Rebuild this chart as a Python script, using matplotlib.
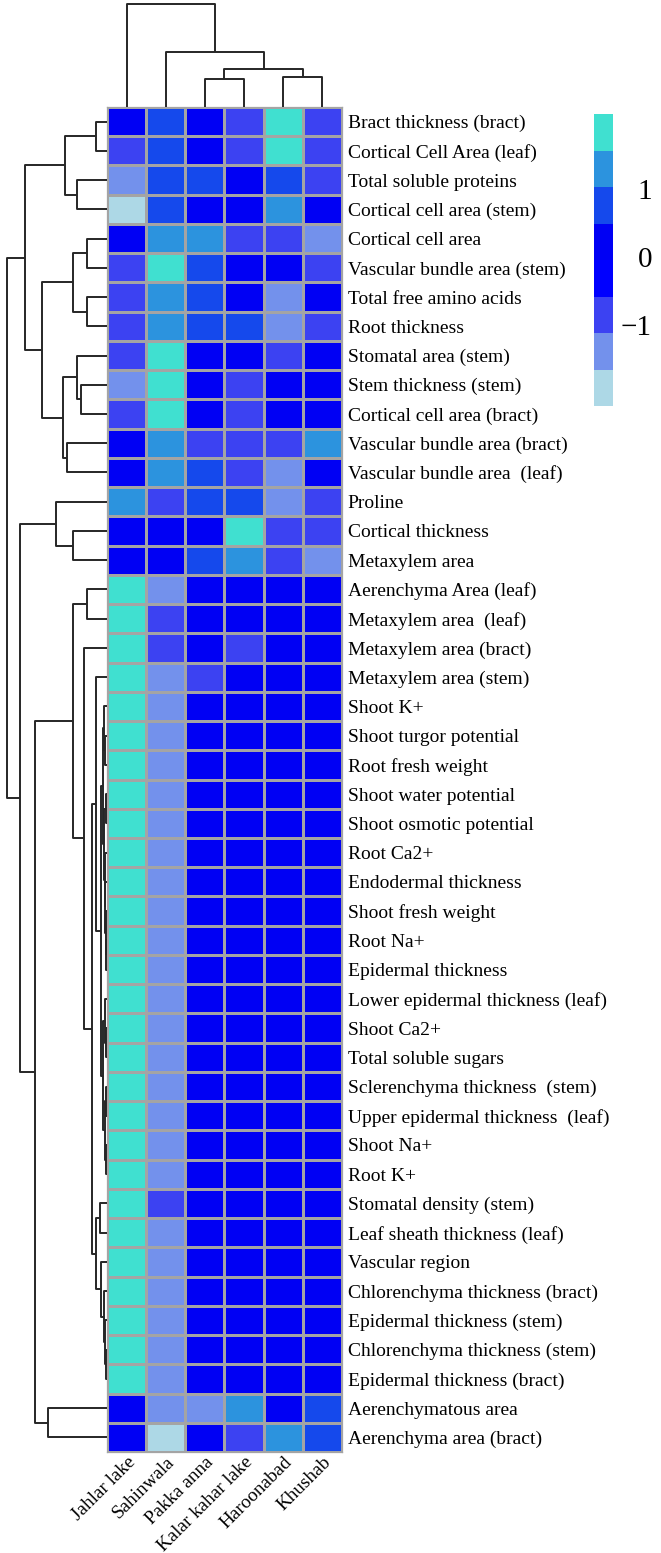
import numpy as np
import matplotlib
matplotlib.use('Agg')
import matplotlib.pyplot as plt
from matplotlib.colors import ListedColormap, BoundaryNorm
from matplotlib.cm import ScalarMappable

plt.rcParams['font.family'] = ['Liberation Serif', 'DejaVu Serif']

traits = [
    'Bract thickness (bract)', 'Cortical Cell Area (leaf)', 'Total soluble proteins',
    'Cortical cell area (stem)', 'Cortical cell area', 'Vascular bundle area (stem)',
    'Total free amino acids', 'Root thickness', 'Stomatal area (stem)',
    'Stem thickness (stem)', 'Cortical cell area (bract)', 'Vascular bundle area (bract)',
    'Vascular bundle area  (leaf)', 'Proline', 'Cortical thickness', 'Metaxylem area',
    'Aerenchyma Area (leaf)', 'Metaxylem area  (leaf)', 'Metaxylem area (bract)',
    'Metaxylem area (stem)', 'Shoot K+', 'Shoot turgor potential', 'Root fresh weight',
    'Shoot water potential', 'Shoot osmotic potential', 'Root Ca2+', 'Endodermal thickness',
    'Shoot fresh weight', 'Root Na+', 'Epidermal thickness', 'Lower epidermal thickness (leaf)',
    'Shoot Ca2+', 'Total soluble sugars', 'Sclerenchyma thickness  (stem)',
    'Upper epidermal thickness  (leaf)', 'Shoot Na+', 'Root K+', 'Stomatal density (stem)',
    'Leaf sheath thickness (leaf)', 'Vascular region', 'Chlorenchyma thickness (bract)',
    'Epidermal thickness (stem)', 'Chlorenchyma thickness (stem)', 'Epidermal thickness (bract)',
    'Aerenchymatous area', 'Aerenchyma area (bract)',
]
sites = ['Jahlar lake', 'Sahinwala', 'Pakka anna', 'Kalar kahar lake', 'Haroonabad', 'Khushab']

# scaled values read per site (top row to bottom row)
jahlar = [0.2, -0.8, -1.3, -1.8, 0.2, -0.8, -0.8, -0.8, -0.8, -1.3, -0.8, 0.2, 0.2, 1.3, 0.2, 0.2,
          1.8, 1.8, 1.8, 1.8, 1.8, 1.8, 1.8, 1.8, 1.8, 1.8, 1.8, 1.8, 1.8, 1.8,
          1.8, 1.8, 1.8, 1.8, 1.8, 1.8, 1.8, 1.8, 1.8, 1.8, 1.8, 1.8, 1.8, 1.8, 0.2, 0.2]
sahinwala = [0.8, 0.8, 0.8, 0.8, 1.3, 1.8, 1.3, 1.3, 1.8, 1.8, 1.8, 1.3, 1.3, -0.8, 0.2, 0.2,
             -1.3, -0.8, -0.8, -1.3, -1.3, -1.3, -1.3, -1.3, -1.3, -1.3, -1.3, -1.3, -1.3, -1.3,
             -1.3, -1.3, -1.3, -1.3, -1.3, -1.3, -1.3, -0.8, -1.3, -1.3, -1.3, -1.3, -1.3, -1.3,
             -1.3, -1.8]
pakka = [0.2, 0.2, 0.8, 0.2, 1.3, 0.8, 0.8, 0.8, 0.2, 0.2, 0.2, -0.8, 0.8, 0.8, 0.2, 0.8,
         0.2, 0.2, 0.2, -0.8, 0.2, 0.2, 0.2, 0.2, 0.2, 0.2, 0.2, 0.2, 0.2, 0.2,
         0.2, 0.2, 0.2, 0.2, 0.2, 0.2, 0.2, 0.2, 0.2, 0.2, 0.2, 0.2, 0.2, 0.2, -1.3, 0.2]
kalar = [-0.8, -0.8, 0.2, 0.2, -0.8, 0.2, 0.2, 0.8, 0.2, -0.8, -0.8, -0.8, -0.8, 0.8, 1.8, 1.3,
         0.2, 0.2, -0.8, 0.2, 0.2, 0.2, 0.2, 0.2, 0.2, 0.2, 0.2, 0.2, 0.2, 0.2,
         0.2, 0.2, 0.2, 0.2, 0.2, 0.2, 0.2, 0.2, 0.2, 0.2, 0.2, 0.2, 0.2, 0.2, 1.3, -0.8]
haroonabad = [1.8, 1.8, 0.8, 1.3, -0.8, 0.2, -1.3, -1.3, -0.8, 0.2, 0.2, -0.8, -1.3, -1.3, -0.8, -0.8,
              0.2, 0.2, 0.2, 0.2, 0.2, 0.2, 0.2, 0.2, 0.2, 0.2, 0.2, 0.2, 0.2, 0.2,
              0.2, 0.2, 0.2, 0.2, 0.2, 0.2, 0.2, 0.2, 0.2, 0.2, 0.2, 0.2, 0.2, 0.2, 0.2, 1.3]
khushab = [-0.8, -0.8, -0.8, 0.2, -1.3, -0.8, 0.2, -0.8, 0.2, 0.2, 0.2, 1.3, 0.2, -0.8, -0.8, -1.3,
           0.2, 0.2, 0.2, 0.2, 0.2, 0.2, 0.2, 0.2, 0.2, 0.2, 0.2, 0.2, 0.2, 0.2,
           0.2, 0.2, 0.2, 0.2, 0.2, 0.2, 0.2, 0.2, 0.2, 0.2, 0.2, 0.2, 0.2, 0.2, 0.8, 0.8]

# dendrogram merges: (left, right, height), leaves are row / column indices
row_tree = (
    ((((0, 1, 11), (2, 3, 30), 42),
      ((((4, 5, 20), (6, 7, 20), 34),
        ((8, (9, 10, 26), 30), (11, 12, 40), 44), 65)), 82)),
    ((13, (14, 15, 34), 51),
     ((((16, 17, 20),
        (18,
         ((19,
           (((20, (21, 22, 1.5), 2.5),
             ((23, 24, 1), (25, (26, (27, (28, 29, 0.5), 1), 1.5), 2), 3), 4),
            ((30, (31, 32, 1), 2), ((33, 34, 0.5), (35, 36, 1), 1.5), 3.5), 6.3), 11),
          ((37, 38, 7), (39, (40, (41, (42, 43, 1), 2), 3), 5.5), 11), 15), 23), 34),
      (44, 45, 59), 72)), 87),
    100)
col_tree = (0, (1, ((2, 3, 28), (4, 5, 30), 38), 55), 103)

colors = ['#ADD8E6', '#7391EC', '#3C42F2', '#0000FF', '#0000F4', '#1549EC', '#2C93DE', '#40E0D0']
bounds = np.linspace(-2.2, 2.1, 9)
cmap = ListedColormap(colors)
norm = BoundaryNorm(bounds, cmap.N)

data = np.column_stack([jahlar, sahinwala, pakka, kalar, haroonabad, khushab])

W, H = 661, 1553
fig = plt.figure(figsize=(W / 100, H / 100), dpi=100)


def add_ax(x0, y0, x1, y1):
    return fig.add_axes([x0 / W, 1 - y1 / H, (x1 - x0) / W, (y1 - y0) / H])


def draw_tree(ax, node, vertical):
    # returns (leaf position, height) of node
    if isinstance(node, int):
        return node + 0.5, 0
    left, right, h = node
    pl, hl = draw_tree(ax, left, vertical)
    pr, hr = draw_tree(ax, right, vertical)
    xs = [pl, pl, pr, pr]
    ys = [hl, h, h, hr]
    if vertical:
        ax.plot(ys, xs, color='#262626', lw=1.4, solid_capstyle='butt')
    else:
        ax.plot(xs, ys, color='#262626', lw=1.4, solid_capstyle='butt')
    return (pl + pr) / 2, h


ax_hm = add_ax(107, 107, 342, 1452)
ax_row = add_ax(0, 107, 107, 1452)
ax_col = add_ax(107, 0, 342, 107)
ax_cb = add_ax(594, 114, 613, 406)

ax_hm.pcolormesh(np.arange(7), np.arange(47), data, cmap=cmap, norm=norm,
                 edgecolors='#a4a4a4', linewidth=0.9)
ax_hm.set_xlim(0, 6)
ax_hm.set_ylim(46, 0)
for s in ax_hm.spines.values():
    s.set_color('#a4a4a4')
    s.set_linewidth(0.9)
ax_hm.yaxis.tick_right()
ax_hm.set_yticks(np.arange(46) + 0.5)
ax_hm.set_yticklabels(traits, fontsize=14)
ax_hm.set_xticks(np.arange(6) + 0.5)
ax_hm.set_xticklabels(sites, fontsize=13.8, rotation=45, ha='right', va='top',
                      rotation_mode='anchor')
ax_hm.tick_params(axis='y', length=0, pad=4)
ax_hm.tick_params(axis='x', length=0, pad=1)

draw_tree(ax_row, row_tree, True)
ax_row.set_xlim(107, 0)
ax_row.set_ylim(46, 0)
ax_row.axis('off')

draw_tree(ax_col, col_tree, False)
ax_col.set_xlim(0, 6)
ax_col.set_ylim(0, 107)
ax_col.axis('off')

cb = fig.colorbar(ScalarMappable(norm=norm, cmap=cmap), cax=ax_cb, ticks=[-1, 0, 1])
cb.outline.set_visible(False)
cb.ax.minorticks_off()
cb.ax.tick_params(which='both', length=0, labelsize=21, pad=28)
for t in cb.ax.get_yticklabels():
    t.set_horizontalalignment('right')

fig.savefig('out.png', dpi=100)
